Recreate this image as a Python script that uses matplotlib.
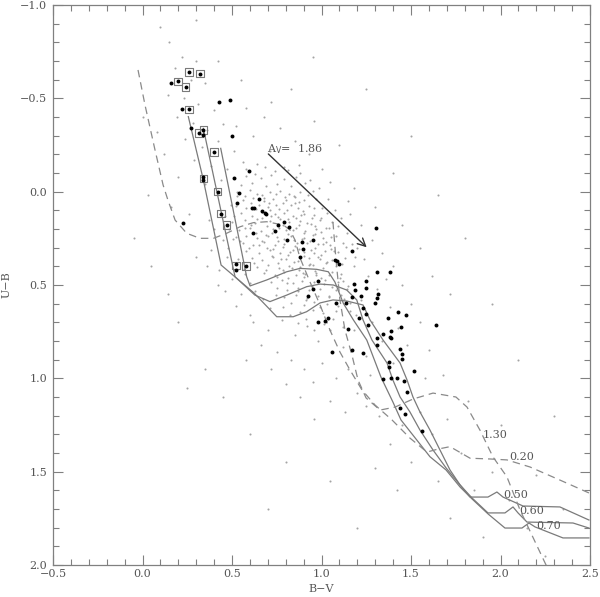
import numpy as np
import matplotlib
matplotlib.use('Agg')
import matplotlib.pyplot as plt
from matplotlib.ticker import MultipleLocator

plt.rcParams['font.family'] = ['DejaVu Serif']
plt.rcParams['font.size'] = 8

# Reddened isochrones (solid), labelled by E(B-V)
iso050_bv = [0.256, 0.340, 0.439, 0.623, 0.750, 0.842, 0.917, 0.992, 1.064, 1.142, 1.232, 1.271, 1.344,
             1.439, 1.478, 1.511, 1.550, 1.606, 1.662, 1.718, 1.774, 1.830, 1.930, 1.980, 2.014, 2.126,
             2.332, 2.494]
iso050_ub = [-0.402, -0.063, 0.393, 0.543, 0.670, 0.670, 0.643, 0.596, 0.580, 0.586, 0.607, 0.687, 0.795,
             0.918, 1.009, 1.100, 1.180, 1.277, 1.384, 1.491, 1.571, 1.636, 1.636, 1.609, 1.636, 1.684,
             1.689, 1.759]
iso060_bv = [0.340, 0.517, 0.628, 0.712, 0.806, 0.917, 0.992, 1.066, 1.141, 1.197, 1.232, 1.282, 1.366,
             1.399, 1.439, 1.494, 1.550, 1.623, 1.696, 1.774, 1.841, 1.930, 2.025, 2.070, 2.098, 2.148,
             2.405, 2.494]
iso060_ub = [-0.339, 0.456, 0.554, 0.589, 0.554, 0.509, 0.495, 0.500, 0.527, 0.580, 0.687, 0.795, 0.918,
             1.009, 1.100, 1.180, 1.277, 1.384, 1.480, 1.571, 1.641, 1.721, 1.721, 1.689, 1.721, 1.770,
             1.775, 1.802]
iso070_bv = [0.437, 0.582, 0.601, 0.694, 0.806, 0.880, 0.973, 1.038, 1.075, 1.122, 1.178, 1.253, 1.332,
             1.399, 1.444, 1.532, 1.606, 1.696, 1.774, 1.841, 1.930, 2.025, 2.120, 2.159, 2.193, 2.349,
             2.494]
iso070_ub = [-0.232, 0.456, 0.505, 0.473, 0.429, 0.411, 0.416, 0.429, 0.484, 0.598, 0.687, 0.795, 0.993,
             1.127, 1.223, 1.330, 1.420, 1.491, 1.582, 1.646, 1.726, 1.802, 1.802, 1.775, 1.796, 1.855,
             1.855]

# dashed isochrones
iso020_bv = [-0.025, 0.014, 0.070, 0.115, 0.142, 0.182, 0.247, 0.321, 0.396, 0.470, 0.545, 0.619, 0.694,
             0.787, 0.824, 0.852, 0.880, 0.936, 0.992, 1.047, 1.103, 1.159, 1.226, 1.299, 1.394, 1.494,
             1.589, 1.651, 1.718, 1.830, 1.941, 2.036, 2.165, 2.332, 2.494]
iso020_ub = [-0.652, -0.464, -0.223, -0.036, 0.045, 0.152, 0.223, 0.250, 0.250, 0.223, 0.188, 0.166, 0.161,
             0.179, 0.205, 0.259, 0.355, 0.484, 0.607, 0.741, 0.859, 0.955, 1.062, 1.143, 1.223, 1.320,
             1.395, 1.379, 1.366, 1.428, 1.432, 1.437, 1.475, 1.545, 1.614]
iso130_bv = [1.064, 1.081, 1.103, 1.131, 1.170, 1.204, 1.249, 1.327, 1.411, 1.511, 1.623, 1.751, 1.813,
             1.885, 1.958, 2.036, 2.109, 2.249, 2.280]
iso130_ub = [0.162, 0.366, 0.580, 0.741, 0.875, 1.009, 1.105, 1.170, 1.154, 1.111, 1.079, 1.100, 1.154,
             1.277, 1.421, 1.528, 1.705, 1.989, 2.050]

iso_labels = ['0.50', '0.60', '0.70', '1.30', '0.20']
label_bv = [2.014, 2.103, 2.198, 1.902, 2.047]
label_ub = [1.625, 1.711, 1.791, 1.304, 1.424]

# member stars (filled)
star_bv = [0.260, 0.320, 0.200, 0.158, 0.241, 0.427, 0.489, 0.219, 0.260, 0.269, 0.340, 0.317, 0.340,
           0.498, 0.401, 0.595, 0.340, 0.340, 0.509, 0.420, 0.539, 0.649, 0.530, 0.609, 0.623, 0.670,
           0.684, 0.690, 0.439, 0.791, 0.759, 0.820, 0.470, 0.229, 0.619, 0.739, 0.809, 0.889, 0.950,
           0.898, 0.880, 0.521, 0.521, 0.578, 0.927, 1.304, 1.169, 1.073, 1.084, 1.099, 1.308, 1.383,
           1.247, 1.183, 1.188, 1.250, 1.317, 1.308, 1.299, 1.219, 1.173, 0.978, 0.950, 1.079, 1.137,
           1.232, 1.251, 1.211, 1.430, 1.473, 1.370, 1.038, 1.020, 0.979, 1.260, 1.640, 1.442, 1.150,
           1.388, 1.346, 1.312, 1.384, 1.391, 1.308, 1.436, 1.451, 1.447, 1.172, 1.234, 1.057, 1.375,
           1.375, 1.515, 1.345, 1.388, 1.420, 1.461, 1.479, 1.440, 1.469, 1.563]
star_ub = [-0.641, -0.632, -0.591, -0.582, -0.562, -0.480, -0.491, -0.441, -0.441, -0.341, -0.330, -0.313,
           -0.302, -0.300, -0.211, -0.109, -0.079, -0.060, -0.072, 0.000, 0.009, 0.039, 0.059, 0.090,
           0.090, 0.101, 0.114, 0.121, 0.118, 0.160, 0.179, 0.188, 0.179, 0.169, 0.220, 0.210, 0.259,
           0.271, 0.260, 0.309, 0.348, 0.389, 0.420, 0.398, 0.559, 0.193, 0.319, 0.367, 0.369, 0.389,
           0.430, 0.430, 0.477, 0.496, 0.529, 0.516, 0.549, 0.571, 0.598, 0.559, 0.564, 0.479, 0.520,
           0.598, 0.598, 0.622, 0.657, 0.675, 0.647, 0.662, 0.677, 0.678, 0.691, 0.700, 0.713, 0.715,
           0.723, 0.738, 0.746, 0.764, 0.784, 0.776, 0.784, 0.820, 0.844, 0.872, 0.898, 0.846, 0.863,
           0.857, 0.915, 0.941, 0.963, 1.005, 0.997, 0.997, 1.012, 1.073, 1.159, 1.189, 1.281]

# stars marked with a box
box_bv = [0.260, 0.320, 0.200, 0.241, 0.260, 0.340, 0.317, 0.401, 0.340, 0.420, 0.439, 0.470, 0.521, 0.578]
box_ub = [-0.641, -0.632, -0.591, -0.562, -0.441, -0.330, -0.313, -0.211, -0.070, 0.000, 0.118, 0.179,
          0.395, 0.398]

# field stars (small dots)
field_stars = [
    (0.22, -0.72), (0.30, -0.70), (0.18, -0.66), (0.27, -0.60), (0.35, -0.58), (0.14, -0.52), (0.23, -0.50),
    (0.31, -0.47), (0.40, -0.44), (0.19, -0.40), (0.28, -0.37), (0.36, -0.33), (0.45, -0.36), (0.24, -0.28),
    (0.33, -0.24), (0.42, -0.27), (0.51, -0.22), (0.12, -0.20), (0.29, -0.17), (0.38, -0.14), (0.47, -0.12),
    (0.56, -0.16), (0.20, -0.08), (0.35, -0.04), (0.44, -0.06), (0.08, -0.32), (0.03, 0.02), (0.16, 0.08),
    (0.26, 0.12), (0.37, 0.15), (0.10, -0.88), (0.42, -0.70), (0.55, -0.60),
    (0.58, -0.45), (0.68, -0.40), (0.77, -0.34), (0.62, -0.30), (0.85, -0.27), (0.71, -0.22), (0.93, -0.20),
    (0.64, -0.15), (0.79, -0.13), (0.88, -0.10), (1.00, -0.12), (0.72, -0.48), (0.96, -0.38), (1.05, -0.05),
    (0.83, -0.55), (1.10, -0.25), (1.18, -0.02), (0.52, -0.35),
    (0.58, -0.085), (0.66, -0.072), (0.72, -0.091), (0.79, -0.066), (0.86, -0.080),
    (0.55, -0.035), (0.61, -0.046), (0.69, -0.028), (0.75, -0.041), (0.83, -0.033), (0.91, -0.047),
    (0.53, 0.004), (0.60, -0.008), (0.64, 0.012), (0.71, 0.001), (0.77, -0.006), (0.82, 0.010), (0.88, 0.003),
    (0.95, -0.004),
    (0.56, 0.043), (0.62, 0.035), (0.68, 0.051), (0.73, 0.038), (0.80, 0.047), (0.85, 0.031), (0.90, 0.044),
    (0.97, 0.039),
    (0.52, 0.078), (0.58, 0.086), (0.65, 0.071), (0.70, 0.083), (0.76, 0.092), (0.83, 0.074), (0.87, 0.088),
    (0.93, 0.079), (1.00, 0.085),
    (0.55, 0.115), (0.61, 0.128), (0.67, 0.109), (0.74, 0.121), (0.79, 0.113), (0.84, 0.130), (0.90, 0.118),
    (0.96, 0.124), (1.03, 0.112),
    (0.50, 0.162), (0.57, 0.151), (0.63, 0.168), (0.71, 0.157), (0.77, 0.149), (0.82, 0.165), (0.88, 0.158),
    (0.94, 0.171), (0.99, 0.153), (1.06, 0.163),
    (0.54, 0.204), (0.60, 0.192), (0.66, 0.211), (0.73, 0.198), (0.80, 0.207), (0.86, 0.193), (0.91, 0.209),
    (0.97, 0.201), (1.04, 0.195),
    (0.52, 0.243), (0.58, 0.236), (0.64, 0.249), (0.69, 0.232), (0.75, 0.245), (0.83, 0.238), (0.89, 0.251),
    (0.95, 0.234), (1.01, 0.247), (1.08, 0.240),
    (0.56, 0.276), (0.62, 0.287), (0.68, 0.271), (0.74, 0.284), (0.79, 0.279), (0.85, 0.290), (0.92, 0.273),
    (0.98, 0.282), (1.05, 0.288), (1.12, 0.275),
    (0.58, 0.318), (0.65, 0.326), (0.71, 0.312), (0.77, 0.329), (0.84, 0.315), (0.90, 0.323), (0.96, 0.331),
    (1.02, 0.316), (1.09, 0.325),
    (0.61, 0.357), (0.67, 0.366), (0.73, 0.352), (0.80, 0.363), (0.87, 0.371), (0.93, 0.354), (0.99, 0.362),
    (1.06, 0.368), (1.13, 0.355),
    (0.64, 0.402), (0.70, 0.393), (0.76, 0.408), (0.82, 0.397), (0.88, 0.405), (0.95, 0.391), (1.01, 0.410),
    (1.08, 0.399),
    (0.68, 0.438), (0.74, 0.446), (0.79, 0.433), (0.86, 0.449), (0.91, 0.441), (0.97, 0.436), (1.04, 0.447),
    (1.11, 0.439),
    (0.72, 0.482), (0.78, 0.474), (0.84, 0.489), (0.89, 0.477), (0.96, 0.486), (1.02, 0.473), (1.09, 0.484),
    (0.75, 0.518), (0.81, 0.526), (0.87, 0.514), (0.93, 0.529), (0.99, 0.521), (1.06, 0.512), (1.14, 0.524),
    (0.79, 0.562), (0.86, 0.553), (0.92, 0.568), (0.98, 0.557), (1.04, 0.564), (1.11, 0.551),
    (0.83, 0.598), (0.90, 0.607), (0.96, 0.593), (1.03, 0.604), (1.09, 0.611), (1.16, 0.596),
    (0.88, 0.643), (0.95, 0.636), (1.01, 0.648), (1.08, 0.639),
    (0.635, 0.095), (0.715, 0.100), (0.805, 0.097), (0.895, 0.102), (0.665, 0.140), (0.755, 0.137),
    (0.855, 0.143), (0.945, 0.139), (0.605, 0.178), (0.695, 0.183), (0.785, 0.176), (0.875, 0.181),
    (0.965, 0.185), (0.635, 0.222), (0.725, 0.219), (0.815, 0.226), (0.905, 0.221), (0.995, 0.218),
    (0.665, 0.262), (0.755, 0.266), (0.845, 0.259), (0.935, 0.263), (1.025, 0.268), (0.695, 0.301),
    (0.785, 0.298), (0.875, 0.305), (0.965, 0.300), (1.055, 0.306), (0.725, 0.342), (0.815, 0.338),
    (0.905, 0.345), (0.995, 0.341), (0.755, 0.382), (0.845, 0.378), (0.935, 0.385), (1.025, 0.380),
    (0.785, 0.421), (0.875, 0.418), (0.965, 0.424), (0.815, 0.462), (0.905, 0.459), (0.995, 0.465),
    (0.575, 0.025), (0.665, 0.020), (0.745, 0.015), (0.845, 0.022), (0.925, 0.018), (0.705, 0.060),
    (0.785, 0.063), (0.875, 0.057),
    (0.512, 0.133), (0.547, 0.262), (0.571, 0.197), (0.593, 0.302), (0.608, 0.061), (0.622, 0.381),
    (0.641, 0.144), (0.653, 0.287), (0.676, 0.033), (0.689, 0.418), (0.702, 0.237), (0.718, 0.129),
    (0.731, 0.309), (0.744, 0.071), (0.752, 0.457), (0.763, 0.193), (0.771, 0.361), (0.788, 0.251),
    (0.797, 0.031), (0.806, 0.489), (0.812, 0.147), (0.823, 0.322), (0.834, 0.411), (0.841, 0.204),
    (0.853, 0.062), (0.862, 0.277), (0.871, 0.531), (0.879, 0.349), (0.886, 0.127), (0.897, 0.436),
    (0.904, 0.246), (0.913, 0.582), (0.921, 0.167), (0.928, 0.392), (0.939, 0.311), (0.948, 0.503),
    (0.957, 0.087), (0.963, 0.228), (0.972, 0.447), (0.981, 0.351), (0.989, 0.617), (0.997, 0.139),
    (1.006, 0.279), (1.014, 0.494), (1.023, 0.197), (1.031, 0.377), (1.043, 0.561), (1.052, 0.243),
    (1.061, 0.431), (1.072, 0.319), (1.083, 0.527), (1.094, 0.183), (1.103, 0.461), (1.117, 0.389),
    (1.126, 0.577), (1.138, 0.297), (1.146, 0.503), (1.157, 0.637), (0.532, 0.359), (0.566, 0.412),
    (0.598, 0.488), (0.631, 0.531), (0.672, 0.577), (0.713, 0.621), (0.748, 0.552), (0.783, 0.618),
    (0.826, 0.659), (0.867, 0.703), (0.916, 0.681), (0.959, 0.741), (1.012, 0.708), (1.066, 0.683),
    (1.118, 0.727), (0.577, -0.121), (0.628, -0.097), (0.687, -0.133), (0.738, -0.109), (0.812, -0.118),
    (0.873, -0.142), (0.937, -0.063), (0.984, -0.021), (1.036, 0.041), (1.078, 0.097), (1.109, 0.143),
    (1.142, 0.221), (1.168, 0.283), (1.186, 0.348), (0.495, 0.071), (0.482, 0.198), (0.508, 0.254),
    (0.527, 0.023), (0.462, 0.128),
    (0.40, 0.20), (0.45, 0.26), (0.38, 0.31), (0.47, 0.35), (0.43, 0.42), (0.50, 0.47), (0.46, 0.53),
    (0.55, 0.55), (0.52, 0.61), (0.60, 0.66), (0.48, 0.30), (0.42, 0.50), (0.57, 0.44), (0.36, 0.40),
    (0.30, 0.35),
    (1.16, 0.12), (1.22, 0.18), (1.28, 0.26), (1.20, 0.30), (1.34, 0.33), (1.18, 0.40), (1.26, 0.45),
    (1.40, 0.40), (1.31, 0.52), (1.45, 0.50), (1.22, 0.58), (1.38, 0.62), (1.50, 0.60), (1.28, 0.70),
    (1.43, 0.73), (1.55, 0.70), (1.34, 0.80), (1.48, 0.82), (1.60, 0.85), (1.25, 0.88), (1.40, 0.92),
    (1.15, 0.05), (1.30, 0.08), (1.45, 0.18), (1.55, 0.30), (1.62, 0.45), (1.24, 0.36), (1.36, 0.47),
    (1.12, 0.48), (1.19, 0.66),
    (0.62, 0.70), (0.70, 0.74), (0.78, 0.69), (0.85, 0.77), (0.66, 0.82), (0.75, 0.86), (0.92, 0.72),
    (0.98, 0.80), (0.83, 0.90), (0.90, 0.95), (1.05, 0.74), (1.12, 0.83), (1.00, 0.92), (0.95, 1.02),
    (1.08, 1.00), (1.15, 0.95), (1.20, 1.08), (1.05, 1.12), (1.13, 1.18), (1.25, 1.15), (0.72, 0.95),
    (0.80, 1.03), (0.88, 1.10), (0.58, 0.90), (1.18, 0.74), (1.27, 0.98), (0.96, 1.22),
    (1.32, 1.20), (1.45, 1.25), (1.38, 1.35), (1.55, 1.18), (1.62, 1.30), (1.50, 1.45), (1.70, 1.22),
    (1.78, 1.40), (1.65, 1.55), (1.85, 1.60), (1.95, 1.50), (2.05, 1.65), (1.72, 1.75), (1.90, 1.85),
    (2.15, 1.80), (2.25, 1.95), (2.35, 1.70), (1.58, 1.00), (1.68, 0.98), (1.82, 1.12), (2.00, 1.25),
    (1.42, 1.60), (1.30, 1.48), (2.20, 1.52),
    (0.30, -0.92), (0.15, -0.80), (0.95, -0.72), (1.25, -0.55), (1.50, -0.30), (1.65, 0.02), (1.80, 0.25),
    (1.72, 0.55), (0.05, 0.40), (0.20, 0.70), (0.35, 0.95), (0.45, 1.10), (0.60, 1.30), (0.25, 1.05),
    (0.80, 1.45), (1.05, 1.55), (1.20, 1.80), (0.70, 1.70), (2.10, 0.90), (2.30, 1.20), (0.00, -0.40),
    (-0.05, 0.25), (1.95, 0.60), (2.40, 2.00), (1.40, -0.10), (0.14, 0.55),
]

# reddening vector
arrow_start = (0.703, -0.202)
arrow_end = (1.2525, 0.298)
arrow_label = r'A$_{\rm V}$=  1.86'

axis_col = '#808080'
text_col = '#555555'

fig = plt.figure(figsize=(6.0, 5.97), dpi=100)
ax = fig.add_axes([53 / 600, 32 / 597, 537 / 600, 560 / 597])

field = np.array(field_stars)
ax.scatter(field[:, 0], field[:, 1], s=2.2, c='#a4a4a4', linewidths=0, zorder=1)

for bv, ub in [(iso050_bv, iso050_ub), (iso060_bv, iso060_ub), (iso070_bv, iso070_ub)]:
    ax.plot(bv, ub, color='#7a7a7a', lw=0.9, zorder=2)
for bv, ub in [(iso020_bv, iso020_ub), (iso130_bv, iso130_ub)]:
    ax.plot(bv, ub, color='#8a8a8a', lw=0.9, ls=(0, (6, 4)), zorder=2)

for lab, x, y in zip(iso_labels, label_bv, label_ub):
    ax.text(x, y, lab, ha='left', va='center', color=text_col, fontsize=8, zorder=3)

ax.scatter(box_bv, box_ub, s=30, marker='s', facecolors='none', edgecolors='#7a7a7a',
           linewidths=0.8, zorder=3)
ax.scatter(star_bv, star_ub, s=8, c='black', linewidths=0, zorder=4)

ax.annotate('', xy=arrow_end, xytext=arrow_start,
            arrowprops=dict(arrowstyle='->', color='#333333', lw=1.0, mutation_scale=14,
                            shrinkA=0, shrinkB=0), zorder=5)
ax.text(arrow_start[0] - 0.01, arrow_start[1] + 0.01, arrow_label, ha='left', va='bottom',
        color=text_col, fontsize=8)

ax.set_xlim(-0.5, 2.5)
ax.set_ylim(2.0, -1.0)
ax.xaxis.set_major_locator(MultipleLocator(0.5))
ax.xaxis.set_minor_locator(MultipleLocator(0.1))
ax.yaxis.set_major_locator(MultipleLocator(0.5))
ax.yaxis.set_minor_locator(MultipleLocator(0.1))
ax.xaxis.set_major_formatter(plt.FuncFormatter(lambda v, p: f'{v:.1f}'.replace('-', '\u2212')))
ax.yaxis.set_major_formatter(plt.FuncFormatter(lambda v, p: f'{v:.1f}'.replace('-', '\u2212')))
ax.tick_params(which='both', direction='in', top=True, right=True, color=axis_col,
               labelcolor=text_col, labelsize=8, width=0.8)
ax.tick_params(which='major', length=7, pad=4)
ax.tick_params(axis='x', which='major', pad=3)
ax.tick_params(which='minor', length=4)
for sp in ax.spines.values():
    sp.set_color(axis_col)
    sp.set_linewidth(0.9)

ax.set_xlabel('B\u2212V', color=text_col, fontsize=8)
ax.set_ylabel('U\u2212B', color=text_col, fontsize=8)
ax.xaxis.set_label_coords(0.5, -(589 - 565) / 560)
ax.xaxis.label.set_va('center')
ax.yaxis.set_label_coords((7 - 53) / 537, 0.5)
ax.yaxis.label.set_va('center')

fig.savefig('out.png', dpi=100)
plt.close(fig)
